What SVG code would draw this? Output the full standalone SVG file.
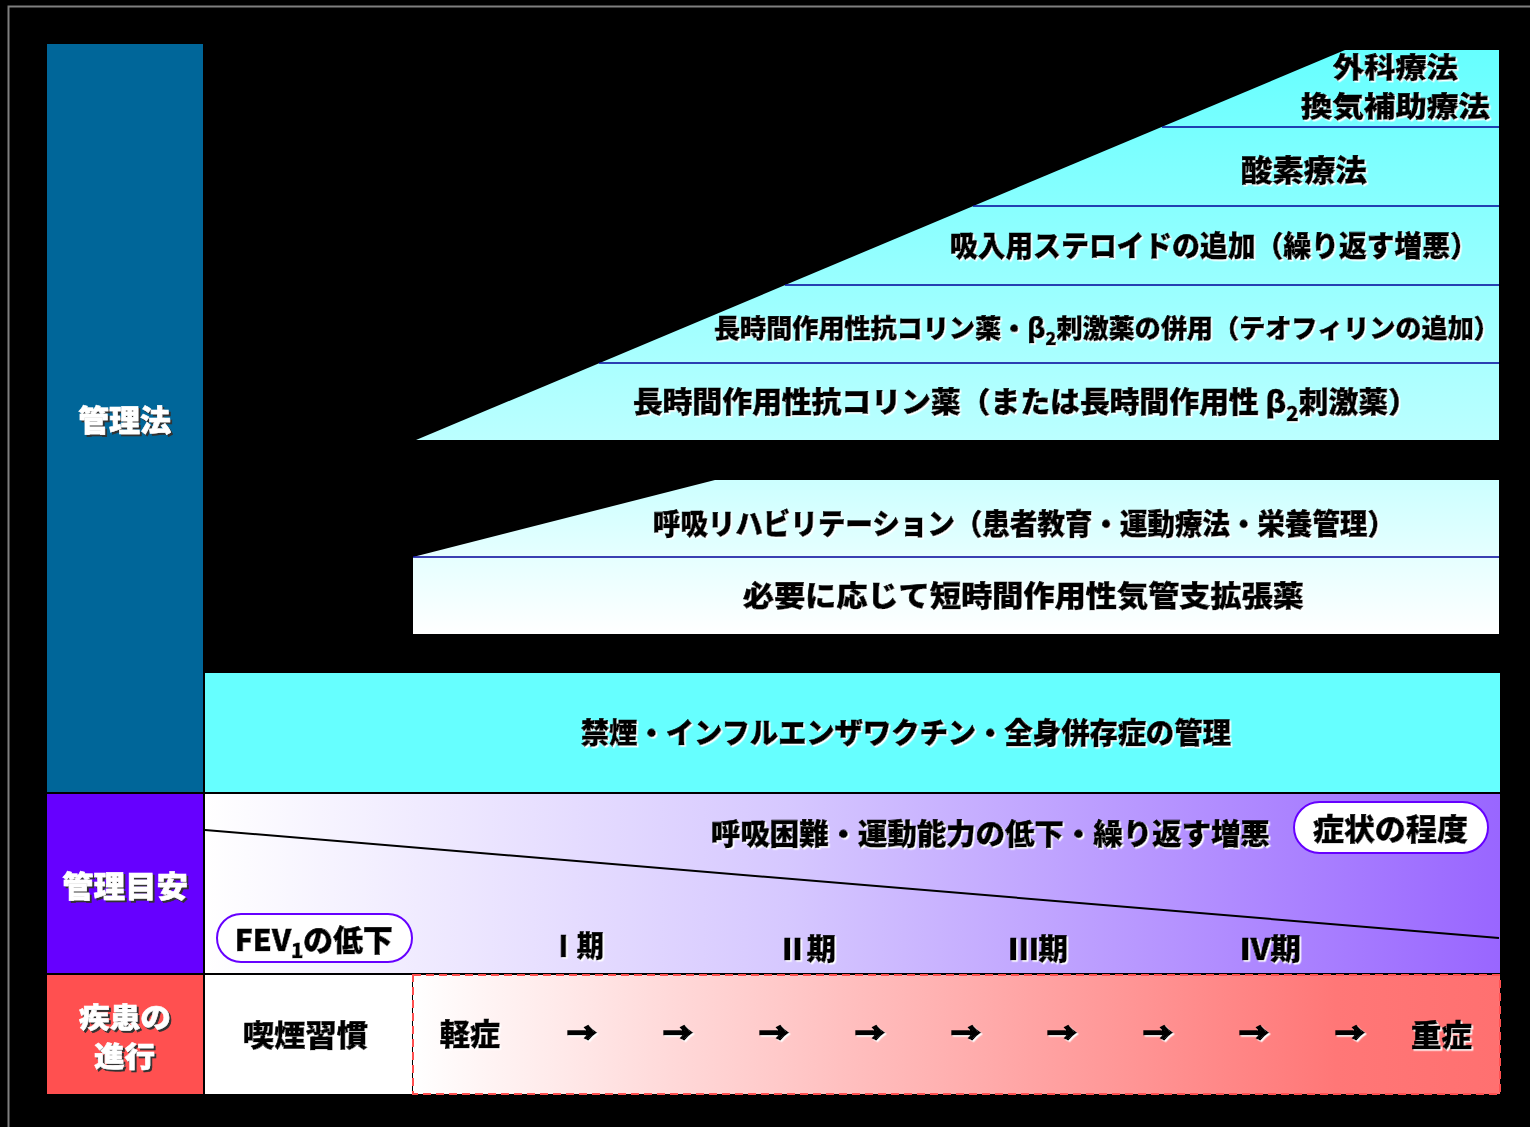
<svg xmlns="http://www.w3.org/2000/svg" width="1530" height="1127" viewBox="0 0 1530 1127">
<defs>
<style>
.t{font-family:"Noto Sans CJK JP","Liberation Sans",sans-serif;font-weight:900;fill:#000;stroke:#000;stroke-width:0.6;filter:url(#ws)}
.w{font-family:"Noto Sans CJK JP","Liberation Sans",sans-serif;font-weight:900;fill:#fff;stroke:#fff;stroke-width:0.5;filter:url(#ds)}
.arr{font-family:"Noto Sans CJK JP","Liberation Sans",sans-serif;font-weight:900;font-size:28px;fill:#000;stroke:#000;stroke-width:1.6;filter:url(#ws)}
.sep{stroke:#000099;stroke-width:1.5;fill:none}
.pill{fill:#fff;stroke:#6600ff;stroke-width:2}
</style>
<filter id="ws" x="-5%" y="-20%" width="110%" height="140%">
<feDropShadow dx="1.5" dy="1.5" stdDeviation="0.3" flood-color="#ffffff" flood-opacity="1"/>
</filter>
<filter id="ds" x="-5%" y="-20%" width="110%" height="140%">
<feDropShadow dx="2" dy="2" stdDeviation="0.4" flood-color="#303030" flood-opacity="1"/>
</filter>
<linearGradient id="gTri" x1="0" y1="50" x2="0" y2="440" gradientUnits="userSpaceOnUse">
<stop offset="0" stop-color="#66ffff"/>
<stop offset="1" stop-color="#bbffff"/>
</linearGradient>
<linearGradient id="gLow" x1="0" y1="480" x2="0" y2="634" gradientUnits="userSpaceOnUse">
<stop offset="0" stop-color="#ccffff"/>
<stop offset="1" stop-color="#ffffff"/>
</linearGradient>
<linearGradient id="gPur" x1="205" y1="0" x2="1499" y2="0" gradientUnits="userSpaceOnUse">
<stop offset="0" stop-color="#ffffff"/>
<stop offset="0.45" stop-color="#d6c8ff"/>
<stop offset="1" stop-color="#9966ff"/>
</linearGradient>
<linearGradient id="gRed" x1="413" y1="0" x2="1499" y2="0" gradientUnits="userSpaceOnUse">
<stop offset="0" stop-color="#ffffff"/>
<stop offset="0.85" stop-color="#ff7777"/>
<stop offset="1" stop-color="#ff7070"/>
</linearGradient>
</defs>
<rect x="0" y="0" width="1530" height="1127" fill="#000"/>
<path d="M8.5 1127 V6.5 H1530" fill="none" stroke="#7f7f7f" stroke-width="2"/>

<g id="label-kanri">
<rect x="47" y="44" width="156" height="748" fill="#006699"/>
<text class="w" x="78" y="431" font-size="30" textLength="93" lengthAdjust="spacingAndGlyphs">管理法</text>
</g>
<g id="label-meyasu">
<rect x="47" y="794" width="156" height="179" fill="#6600ff"/>
<text class="w" x="62" y="897" font-size="30" textLength="126" lengthAdjust="spacingAndGlyphs">管理目安</text>
</g>
<g id="label-shinkou">
<rect x="47" y="975" width="156" height="119" fill="#ff5050"/>
<text class="w" x="79" y="1028" font-size="28" textLength="92" lengthAdjust="spacingAndGlyphs">疾患の</text>
<text class="w" x="94" y="1067" font-size="28" textLength="61" lengthAdjust="spacingAndGlyphs">進行</text>
</g>

<g id="triangle">
<polygon points="416,440 1345,50 1499,50 1499,440" fill="url(#gTri)"/>
<line class="sep" x1="1162" y1="127" x2="1499" y2="127"/>
<line class="sep" x1="973" y1="206" x2="1499" y2="206"/>
<line class="sep" x1="785" y1="285" x2="1499" y2="285"/>
<line class="sep" x1="599" y1="363" x2="1499" y2="363"/>
</g>
<g id="surgery">
<text class="t" x="1333" y="78" font-size="28" textLength="125" lengthAdjust="spacingAndGlyphs">外科療法</text>
<text class="t" x="1301" y="117" font-size="28" textLength="189" lengthAdjust="spacingAndGlyphs">換気補助療法</text>
</g>
<g id="oxygen">
<text class="t" x="1241" y="181" font-size="30" textLength="126" lengthAdjust="spacingAndGlyphs">酸素療法</text>
</g>
<g id="steroid">
<text class="t" x="950" y="257" font-size="29" textLength="528" lengthAdjust="spacingAndGlyphs">吸入用ステロイドの追加（繰り返す増悪）</text>
</g>
<g id="combo">
<text class="t" x="714" y="338" font-size="26" textLength="786" lengthAdjust="spacingAndGlyphs">長時間作用性抗コリン薬・β<tspan font-size="18" dy="7">2</tspan><tspan dy="-7">刺激薬の併用（テオフィリンの追加）</tspan></text>
</g>
<g id="lama">
<text class="t" x="633" y="413" font-size="29" textLength="785" lengthAdjust="spacingAndGlyphs">長時間作用性抗コリン薬（または長時間作用性 β<tspan font-size="20" dy="8">2</tspan><tspan dy="-8">刺激薬）</tspan></text>
</g>

<g id="lower">
<polygon points="413,557 715,480 1499,480 1499,634 413,634" fill="url(#gLow)"/>
<line class="sep" x1="413" y1="557" x2="1499" y2="557"/>
</g>
<g id="rehab">
<text class="t" x="653" y="535" font-size="29" textLength="742" lengthAdjust="spacingAndGlyphs">呼吸リハビリテーション（患者教育・運動療法・栄養管理）</text>
</g>
<g id="saba">
<text class="t" x="743" y="607" font-size="29" textLength="561" lengthAdjust="spacingAndGlyphs">必要に応じて短時間作用性気管支拡張薬</text>
</g>

<g id="base">
<rect x="205" y="673" width="1295" height="119" fill="#66ffff"/>
<text class="t" x="581" y="744" font-size="29" textLength="650" lengthAdjust="spacingAndGlyphs">禁煙・インフルエンザワクチン・全身併存症の管理</text>
</g>

<g id="symptom-band">
<rect x="205" y="794" width="1295" height="179" fill="url(#gPur)"/>
<text class="t" x="711" y="845" font-size="29" textLength="559" lengthAdjust="spacingAndGlyphs">呼吸困難・運動能力の低下・繰り返す増悪</text>
</g>
<g id="pill-symptom">
<rect class="pill" x="1294" y="802" width="194" height="51" rx="25.5"/>
<text class="t" x="1313" y="840" font-size="30" textLength="155" lengthAdjust="spacingAndGlyphs">症状の程度</text>
</g>
<g id="pill-fev">
<rect class="pill" x="217" y="914" width="195" height="48" rx="24"/>
<text class="t" x="235" y="951" font-size="30" textLength="158" lengthAdjust="spacingAndGlyphs">FEV<tspan font-size="20" dy="7">1</tspan><tspan dy="-7">の低下</tspan></text>
</g>
<g id="stages">
<text class="t" x="550" y="957" font-size="29" textLength="54" lengthAdjust="spacingAndGlyphs">Ⅰ期</text>
<text class="t" x="778" y="960" font-size="29" textLength="58" lengthAdjust="spacingAndGlyphs">Ⅱ期</text>
<text class="t" x="1009" y="960" font-size="29" textLength="59" lengthAdjust="spacingAndGlyphs">Ⅲ期</text>
<text class="t" x="1240" y="960" font-size="29" textLength="61" lengthAdjust="spacingAndGlyphs">Ⅳ期</text>
</g>

<g id="smoking">
<rect x="205" y="975" width="207" height="119" fill="#ffffff"/>
<text class="t" x="243" y="1046" font-size="30" textLength="125" lengthAdjust="spacingAndGlyphs">喫煙習慣</text>
</g>
<g id="progress">
<rect x="413" y="975" width="1087" height="119" fill="url(#gRed)" stroke="#ff5050" stroke-width="2" stroke-dasharray="8,5"/>
<text class="t" x="440" y="1045" font-size="30" textLength="60" lengthAdjust="spacingAndGlyphs">軽症</text>
<text class="t" x="1411" y="1046" font-size="30" textLength="61" lengthAdjust="spacingAndGlyphs">重症</text>
</g>

<g id="connectors">
<line x1="205" y1="830" x2="1499" y2="938" stroke="#000" stroke-width="2"/>
<text class="arr" x="567" y="1044" textLength="30" lengthAdjust="spacingAndGlyphs">→</text>
<text class="arr" x="663" y="1044" textLength="30" lengthAdjust="spacingAndGlyphs">→</text>
<text class="arr" x="759" y="1044" textLength="30" lengthAdjust="spacingAndGlyphs">→</text>
<text class="arr" x="855" y="1044" textLength="30" lengthAdjust="spacingAndGlyphs">→</text>
<text class="arr" x="951" y="1044" textLength="30" lengthAdjust="spacingAndGlyphs">→</text>
<text class="arr" x="1047" y="1044" textLength="30" lengthAdjust="spacingAndGlyphs">→</text>
<text class="arr" x="1143" y="1044" textLength="30" lengthAdjust="spacingAndGlyphs">→</text>
<text class="arr" x="1239" y="1044" textLength="30" lengthAdjust="spacingAndGlyphs">→</text>
<text class="arr" x="1335" y="1044" textLength="30" lengthAdjust="spacingAndGlyphs">→</text>
</g>
</svg>
